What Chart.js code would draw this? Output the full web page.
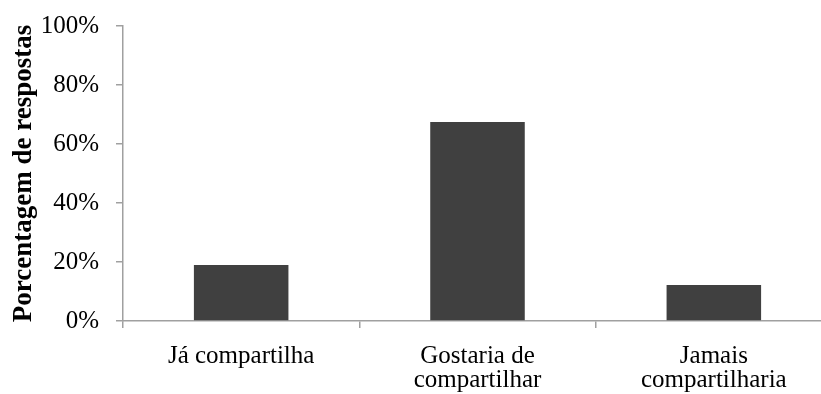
<!DOCTYPE html>
<html>
<head>
<meta charset="utf-8">
<script src="https://cdn.jsdelivr.net/npm/chart.js@4"></script>
<style>
  html, body { margin: 0; padding: 0; background: #fff; overflow: hidden; }
  #wrap { width: 832px; height: 418px; margin-top: -6px; }
</style>
</head>
<body>
<div id="wrap"><canvas id="chart" width="832" height="418"></canvas></div>
<script>
// categories & values
const categories = ['Já compartilha', ['Gostaria de', 'compartilhar'], ['Jamais', 'compartilharia']];
const percentages = [19, 67.5, 12.2];
const yTicks = [0, 20, 40, 60, 80, 100];

const serif = "'Liberation Serif', 'Times New Roman', serif";
const axisGrey = '#a0a0a0';
const padLeft = 8;

new Chart(document.getElementById('chart'), {
    type: 'bar',
    data: {
        labels: categories,
        datasets: [{
            data: percentages,
            backgroundColor: '#404040',
            barPercentage: 0.4,
            categoryPercentage: 1
        }]
    },
    options: {
        responsive: false,
        animation: false,
        layout: { padding: { top: 7, left: padLeft, right: 0, bottom: 4 } },
        plugins: { legend: { display: false }, tooltip: { enabled: false } },
        scales: {
            x: {
                grid: { drawOnChartArea: false, color: axisGrey, lineWidth: 1.5, tickLength: 7, offset: true },
                border: { color: axisGrey, width: 1.5 },
                ticks: { color: '#000', font: { family: serif, size: 25, lineHeight: '24px' }, padding: 16, maxRotation: 0 }
            },
            y: {
                min: 0, max: 100,
                afterBuildTicks: axis => { axis.ticks = yTicks.map(v => ({ value: v })); },
                afterFit: axis => { axis.width = 123 - padLeft; },
                grid: { drawOnChartArea: false, color: axisGrey, lineWidth: 1.5, tickLength: 7 },
                border: { color: axisGrey, width: 1.5 },
                ticks: { color: '#000', font: { family: serif, size: 25 }, padding: 17, callback: v => v + '%' },
                title: {
                    display: true, text: 'Porcentagem de respostas', color: '#000',
                    font: { family: serif, size: 27, weight: 'bold' }, padding: { top: 0, bottom: 4 }
                }
            }
        }
    }
});
</script>
</body>
</html>
